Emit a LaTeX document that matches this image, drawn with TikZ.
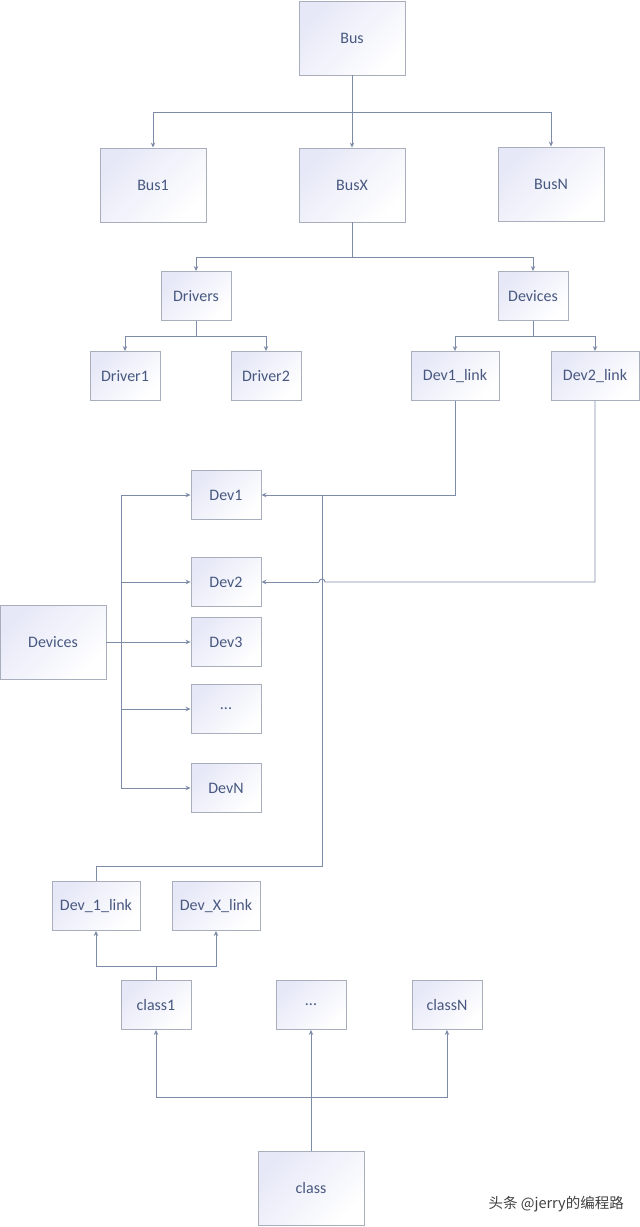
\documentclass[tikz,border=0pt]{standalone}
\usepackage{fontspec}
\setmainfont{Carlito}
\newfontfamily\cjk{Noto Sans CJK SC}
\usetikzlibrary{arrows.meta}
\definecolor{txt}{RGB}{72,88,128}
\definecolor{bord}{RGB}{168,174,188}
\definecolor{lnk}{RGB}{125,139,166}
\definecolor{lav}{RGB}{230,232,247}
\tikzset{
  box/.style={draw=bord, line width=0.9pt, top color=lav, bottom color=white, shading angle=45,
    text=txt, font=\fontsize{16}{19}\selectfont, inner sep=0pt, anchor=center},
  big/.style={box, minimum width=106pt, minimum height=74pt},
  small/.style={box, minimum width=70pt, minimum height=49pt},
  mid/.style={box, minimum width=88pt, minimum height=49pt},
  conn/.style={draw=lnk, line width=0.9pt},
  arr/.style={conn, -{Stealth[length=5pt,width=4.5pt]}},
}
\begin{document}
\begin{tikzpicture}[x=1pt,y=-1pt]
\useasboundingbox (0,0) rectangle (640,1227);
% top level
\node[big] (bus) at (352,38) {Bus};
\node[big] (bus1) at (153,185) {Bus1};
\node[big] (busx) at (352,185) {BusX};
\node[big] (busn) at (551,184) {BusN};
\node[small] (drivers) at (196,296) {Drivers};
\node[small] (devtop) at (533,296) {Devices};
\node[small] (drv1) at (125,376) {Driver1};
\node[small] (drv2) at (266,376) {Driver2};
\node[mid] (d1link) at (455,376) {Dev1\_link};
\node[mid] (d2link) at (595,376) {Dev2\_link};
% devices
\node[small] (dev1) at (226,495) {Dev1};
\node[small] (dev2) at (226,582) {Dev2};
\node[small] (dev3) at (226,642) {Dev3};
\node[small] (devd) at (226,709) {...};
\node[small] (devn) at (226,788) {DevN};
\node[big] (devleft) at (53,642) {Devices};
% class
\node[mid] (dv1l) at (96,906) {Dev\_1\_link};
\node[mid] (dvxl) at (216,906) {Dev\_X\_link};
\node[small] (class1) at (156,1005) {class1};
\node[small] (classd) at (311,1005) {...};
\node[small] (classn) at (447,1005) {classN};
\node[big] (class) at (311,1188) {class};

\coordinate (j1) at (352,112);
\coordinate (j2) at (352,257);
\coordinate (j3) at (196,336);
\coordinate (j4) at (533,336);
\coordinate (j5) at (121,642);
\coordinate (j6) at (322,866);
\coordinate (j7) at (156,966);
\coordinate (j8) at (311,1097);

% Bus tree
\draw[conn] (bus.south) -- (j1);
\draw[arr] (j1) -| (bus1.north);
\draw[arr] (j1) -- (busx.north);
\draw[arr] (j1) -| (busn.north);
\draw[conn] (busx.south) -- (j2);
\draw[arr] (j2) -| (drivers.north);
\draw[arr] (j2) -| (devtop.north);
\draw[conn] (drivers.south) -- (j3);
\draw[arr] (j3) -| (drv1.north);
\draw[arr] (j3) -| (drv2.north);
\draw[conn] (devtop.south) -- (j4);
\draw[arr] (j4) -| (d1link.north);
\draw[arr] (j4) -| (d2link.north);
% links to devices
\draw[arr] (d1link.south) |- (dev1.east);
\draw[conn] (d2link.south) |- (325,582) arc (0:-180:3);
\draw[arr] (319,582) -- (dev2.east);
% left devices
\draw[conn] (devleft.east) -- (j5);
\draw[arr] (j5) |- (dev1.west);
\draw[arr] (j5) |- (dev2.west);
\draw[arr] (j5) -- (dev3.west);
\draw[arr] (j5) |- (devd.west);
\draw[arr] (j5) |- (devn.west);
% Dev_1_link to Dev1
\draw[conn] (dv1l.north) |- (j6) -- (322,495);
% class
\draw[conn] (class1.north) -- (j7);
\draw[arr] (j7) -| (dv1l.south);
\draw[arr] (j7) -| (dvxl.south);
\draw[conn] (class.north) -- (j8);
\draw[arr] (j8) -| (class1.south);
\draw[arr] (j8) -- (classd.south);
\draw[arr] (j8) -| (classn.south);
% watermark
\node[text=black!75, font=\cjk\fontsize{14.5}{16}\selectfont, anchor=east, inner sep=0pt] (wm) at (624,1204) {头条 @jerry的编程路};
\end{tikzpicture}
\end{document}
